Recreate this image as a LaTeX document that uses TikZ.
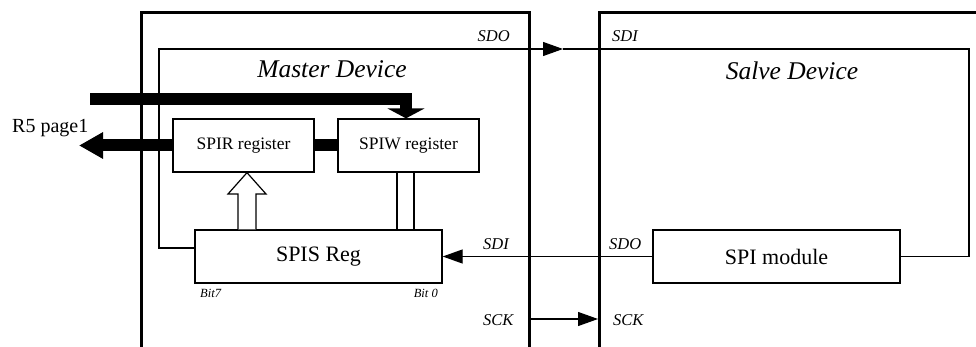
\documentclass[tikz,border=0pt]{standalone}
\usepackage{fontspec}
\setmainfont{Liberation Serif}
\usetikzlibrary{arrows.meta,calc}

\tikzset{
  devline/.style={line width=3pt},
  sig/.style={line width=1.2pt},
  regbox/.style={draw, line width=1.3pt, rectangle, inner sep=0pt, fill=white},
  buswide/.style={line width=12pt},
  smalltip/.style={-{Triangle[width=14pt,length=20pt]}},
  lbl/.style={inner sep=0pt, font=\fontsize{16.5}{18}\selectfont\itshape},
  bitlbl/.style={inner sep=0pt, font=\fontsize{12.5}{14}\selectfont\itshape},
  title/.style={inner sep=0pt, font=\fontsize{25.5}{28}\selectfont\itshape},
}

\begin{document}
\begin{tikzpicture}[x=1pt, y=-1pt]
\useasboundingbox (0,0) rectangle (976,347);

% device outlines (open at the bottom)
\draw[devline] (141,347) -- (141,13) -- (529,13) -- (529,347);
\draw[devline] (599,347) -- (599,13) -- (977,13);

% titles
\node[title, anchor=base] (mtitle) at (332,78) {Master Device};
\node[title, anchor=base] (stitle) at (792,80) {Salve Device};

% registers
\node[regbox, minimum width=141pt, minimum height=53pt,
      font=\fontsize{17.5}{20}\selectfont] (spir) at (243.5,145.5) {SPIR register};
\node[regbox, minimum width=141pt, minimum height=53pt,
      font=\fontsize{17.5}{20}\selectfont] (spiw) at (408.5,145.5) {SPIW register};
\node[regbox, minimum width=247pt, minimum height=53pt,
      font=\fontsize{22}{24}\selectfont] (spis) at (318.5,256.5) {SPIS Reg};
\node[regbox, minimum width=247pt, minimum height=53pt,
      font=\fontsize{22}{24}\selectfont] (spim) at (776.5,256.5) {SPI module};

% wide data paths
\coordinate (busin) at (90,99);
\coordinate (r5tip) at (79,146);
\draw[buswide, -{Triangle[width=37pt,length=10pt]}] (busin) -| ([xshift=-2.5pt]spiw.north);
\draw[buswide] (spir.east) -- (spiw.west);
\draw[buswide, -{Triangle[width=25pt,length=24pt]}] (spir.west) -- (r5tip |- spir.west);
\node[inner sep=0pt, anchor=base west, font=\fontsize{20}{22}\selectfont] (r5) at (12,133) {R5 page1};

% hollow arrow SPIS -> SPIR
\draw[line width=1.2pt, fill=white, line join=miter]
  (238,0 |- spis.north) -- (238,194) -- (228,194) -- (247,0 |- spir.south)
  -- (266,194) -- (256,194) -- (256,0 |- spis.north);

% parallel link SPIS -- SPIW
\draw[line width=1.2pt] (397,0 |- spiw.south) -- (397,0 |- spis.north);
\draw[line width=1.2pt] (414,0 |- spiw.south) -- (414,0 |- spis.north);

% SDO (master) -> SDI (slave) loop
\coordinate (loopL) at (159,49);
\coordinate (sdotip) at (563,49);
\coordinate (loopR) at (969,49);
\draw[sig, smalltip] ([yshift=8.5pt]spis.west) -| (loopL) -- (sdotip);
\draw[sig] (sdotip) -- (loopR) |- (spim.east);

% SDO (slave) -> SDI (master)
\draw[sig, smalltip] (spim.west) -- (spim.west -| spis.east);

% clock
\coordinate (sckA) at (529,319);
\coordinate (sckB) at (598,319);
\draw[sig, smalltip] (sckA) -- (sckB);

% pin labels
\node[lbl, anchor=base east] (lsdo) at (510,42) {SDO};
\node[lbl, anchor=base west] (lsdi) at (612,42) {SDI};
\node[lbl, anchor=base west] (lsdi2) at (483,250) {SDI};
\node[lbl, anchor=base west] (lsdo2) at (609,250) {SDO};
\node[lbl, anchor=base west] (lsck) at (483,325) {SCK};
\node[lbl, anchor=base west] (lsck2) at (613,325) {SCK};

% bit order
\node[bitlbl, anchor=base west] (b7) at (200,297) {Bit7};
\node[bitlbl, anchor=base east] (b0) at (438,297) {Bit 0};
\end{tikzpicture}
\end{document}
